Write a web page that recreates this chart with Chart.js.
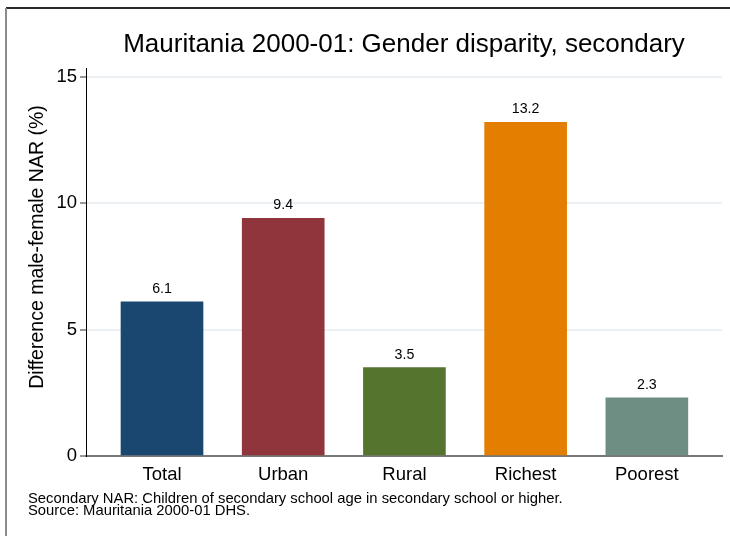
<!DOCTYPE html>
<html>
<head>
<meta charset="utf-8">
<script src="https://cdn.jsdelivr.net/npm/chart.js@4/dist/chart.umd.min.js"></script>
<style>
  html, body { margin: 0; padding: 0; background: #ffffff; }
  #wrap { width: 730px; height: 536px; position: relative; }
</style>
</head>
<body>
<div id="wrap"><canvas id="chart" width="730" height="536"></canvas></div>
<script>
// chart data
const categories = ["Total", "Urban", "Rural", "Richest", "Poorest"];
const disparity = [6.1, 9.4, 3.5, 13.2, 2.3];
const yTicks = [0, 5, 10, 15];
const barColors = ["#1a476f", "#90353b", "#55752f", "#e37e00", "#6e8e84"];

const titleText = "Mauritania 2000-01: Gender disparity, secondary";
const yLabel = "Difference male-female NAR (%)";
const notes = [
    "Secondary NAR: Children of secondary school age in secondary school or higher.",
    "Source: Mauritania 2000-01 DHS."
];

const FONT = "'Liberation Sans', Arial, sans-serif";

// frame, title, axis label, footnotes and value labels
const decorations = {
    id: "decorations",
    beforeDraw(chart) {
        const ctx = chart.ctx;
        ctx.save();
        ctx.fillStyle = "#ffffff";
        ctx.fillRect(0, 0, chart.width, chart.height);
        ctx.lineWidth = 2;
        ctx.strokeStyle = "#2a2a2a";
        ctx.beginPath();
        ctx.moveTo(6, 8);
        ctx.lineTo(chart.width, 8);
        ctx.stroke();
        ctx.strokeStyle = "#8a8a8a";
        ctx.beginPath();
        ctx.moveTo(6, 8);
        ctx.lineTo(6, chart.height);
        ctx.stroke();
        ctx.restore();
    },
    afterDraw(chart) {
        const ctx = chart.ctx;
        const area = chart.chartArea;
        ctx.save();
        ctx.fillStyle = "#000000";

        ctx.font = `26px ${FONT}`;
        ctx.textAlign = "center";
        ctx.textBaseline = "alphabetic";
        ctx.fillText(titleText, (area.left + area.right) / 2, 52);

        ctx.save();
        ctx.font = `19.5px ${FONT}`;
        ctx.translate(43, 247);
        ctx.rotate(-Math.PI / 2);
        ctx.textAlign = "center";
        ctx.fillText(yLabel, 0, 0);
        ctx.restore();

        ctx.font = `14.8px ${FONT}`;
        ctx.textAlign = "left";
        notes.forEach((line, i) => ctx.fillText(line, 28, 503 + i * 12));

        const meta = chart.getDatasetMeta(0);
        ctx.font = `14.2px ${FONT}`;
        ctx.textAlign = "center";
        meta.data.forEach((bar, i) => {
            ctx.fillText(disparity[i].toFixed(1), bar.x, bar.y - 9);
        });
        ctx.restore();
    }
};

new Chart(document.getElementById("chart"), {
    type: "bar",
    data: {
        datasets: [{
            data: disparity.map((v, i) => ({ x: i, y: v })),
            backgroundColor: barColors,
            borderWidth: 0,
            barThickness: 82
        }]
    },
    options: {
        responsive: false,
        animation: false,
        events: [],
        layout: { padding: { left: 0, top: 68, right: 8, bottom: 0 } },
        plugins: {
            legend: { display: false },
            title: { display: false },
            tooltip: { enabled: false }
        },
        scales: {
            x: {
                type: "linear",
                offset: false,
                min: -0.627,
                max: 4.62,
                afterBuildTicks: (scale) => { scale.ticks = categories.map((c, i) => ({ value: i })); },
                afterFit: (scale) => { scale.height = 80; },
                grid: { display: false },
                border: { display: true, color: "#777777", width: 2 },
                ticks: {
                    autoSkip: false,
                    maxRotation: 0,
                    padding: 0,
                    color: "#000000",
                    font: { family: FONT, size: 18.5 },
                    callback: (value) => categories[value]
                }
            },
            y: {
                min: 0,
                max: 15.35,
                afterBuildTicks: (scale) => { scale.ticks = yTicks.map((v) => ({ value: v })); },
                afterFit: (scale) => { scale.width = 86; },
                grid: {
                    color: "#eaf0f4",
                    lineWidth: 2,
                    drawTicks: true,
                    tickLength: 6,
                    tickColor: "#333333",
                    tickWidth: 1
                },
                border: { display: true, color: "#000000", width: 1 },
                ticks: {
                    padding: 3,
                    color: "#000000",
                    font: { family: FONT, size: 18.5 }
                }
            }
        }
    },
    plugins: [decorations]
});
</script>
</body>
</html>
